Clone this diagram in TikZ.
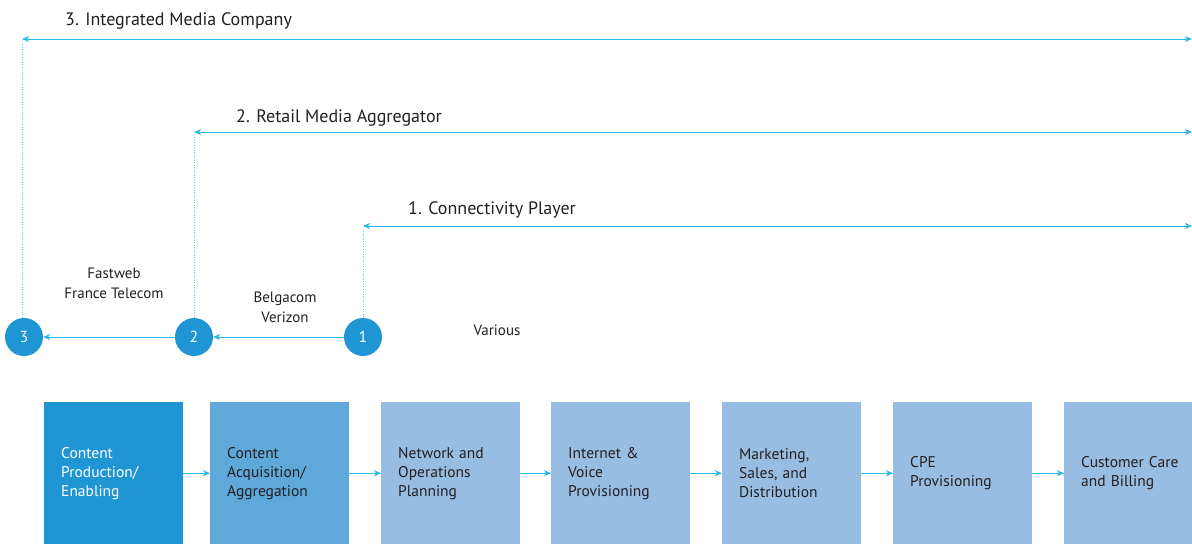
\documentclass[tikz,border=0pt]{standalone}
\usepackage{fontspec}
\setmainfont{PT Sans}
\usetikzlibrary{arrows.meta}
\definecolor{cyanline}{HTML}{29B8E5}
\definecolor{dotline}{HTML}{5CC8EC}
\definecolor{darkblue}{HTML}{1F95D3}
\definecolor{midblue}{HTML}{5FA8DA}
\definecolor{lightblue}{HTML}{98BDE3}
\definecolor{txt}{HTML}{231F20}
\tikzset{
  x=1pt,y=-1pt,
  stage/.style={minimum width=139pt,minimum height=142pt,text width=105pt,align=left,inner sep=0pt,
    font=\fontsize{15.5}{19}\selectfont,text=txt,anchor=north west,fill=lightblue},
  circ/.style={circle,fill=darkblue,minimum size=38pt,inner sep=0pt,text=white,font=\fontsize{16}{18}\selectfont},
  flow/.style={draw=cyanline,line width=1pt,-{Stealth[length=7pt,width=6pt,inset=2pt]}},
  level/.style={draw=cyanline,line width=1pt,{Stealth[length=7pt,width=6pt,inset=2pt]}-{Stealth[length=7pt,width=6pt,inset=2pt]}},
  dots/.style={draw=dotline,line width=1pt,dash pattern=on 1pt off 1.5pt},
  title/.style={font=\fontsize{18}{21}\selectfont,text=txt,anchor=west,inner sep=0pt},
  note/.style={font=\fontsize{15}{20}\selectfont,text=txt,align=center,inner sep=0pt}
}
\begin{document}
\begin{tikzpicture}
\useasboundingbox (0,0) rectangle (1192,544);
% stages
\node[stage,fill=darkblue,text=white] (s1) at (44,402) {Content\\Production/\\Enabling};
\node[stage,fill=midblue] (s2) at (210,402) {Content\\Acquisition/\\Aggregation};
\node[stage] (s3) at (381,402) {Network and\\Operations\\Planning};
\node[stage] (s4) at (551,402) {Internet \&\\Voice\\Provisioning};
\node[stage] (s5) at (722,402) {Marketing,\\Sales, and\\Distribution};
\node[stage] (s6) at (893,402) {CPE\\Provisioning};
\node[stage] (s7) at (1064,402) {Customer Care\\and Billing};
\foreach \a/\b in {s1/s2,s2/s3,s3/s4,s4/s5,s5/s6,s6/s7}{\draw[flow] (\a.east) -- (\b.west);}
% circles
\node[circ] (c3) at (24,337) {3};
\node[circ] (c2) at (194,337) {2};
\node[circ] (c1) at (363,337) {1};
\draw[flow] (c1) -- (c2);
\draw[flow] (c2) -- (c3);
% levels
\coordinate (l3a) at (22,39);  \coordinate (l3b) at (1192,39);
\coordinate (l2a) at (194,132); \coordinate (l2b) at (1192,132);
\coordinate (l1a) at (363,226); \coordinate (l1b) at (1192,226);
\draw[level] (l3a) -- (l3b);
\draw[level] (l2a) -- (l2b);
\draw[level] (l1a) -- (l1b);
\draw[dots] (l3a) ++(0,5) -- (c3.north -| l3a);
\draw[dots] (l2a) ++(0,5) -- (c2.north);
\draw[dots] (l1a) ++(0,5) -- (c1.north);
\node[title] (t3) at (65,21) {3. Integrated Media Company};
\node[title] (t2) at (236,118) {2. Retail Media Aggregator};
\node[title] (t1) at (408,210) {1. Connectivity Player};
\node[note] (n2) at (114,283) {Fastweb\\France Telecom};
\node[note] (n1) at (285,307) {Belgacom\\Verizon};
\node[note] (n0) at (497,330) {Various};
\end{tikzpicture}
\end{document}
